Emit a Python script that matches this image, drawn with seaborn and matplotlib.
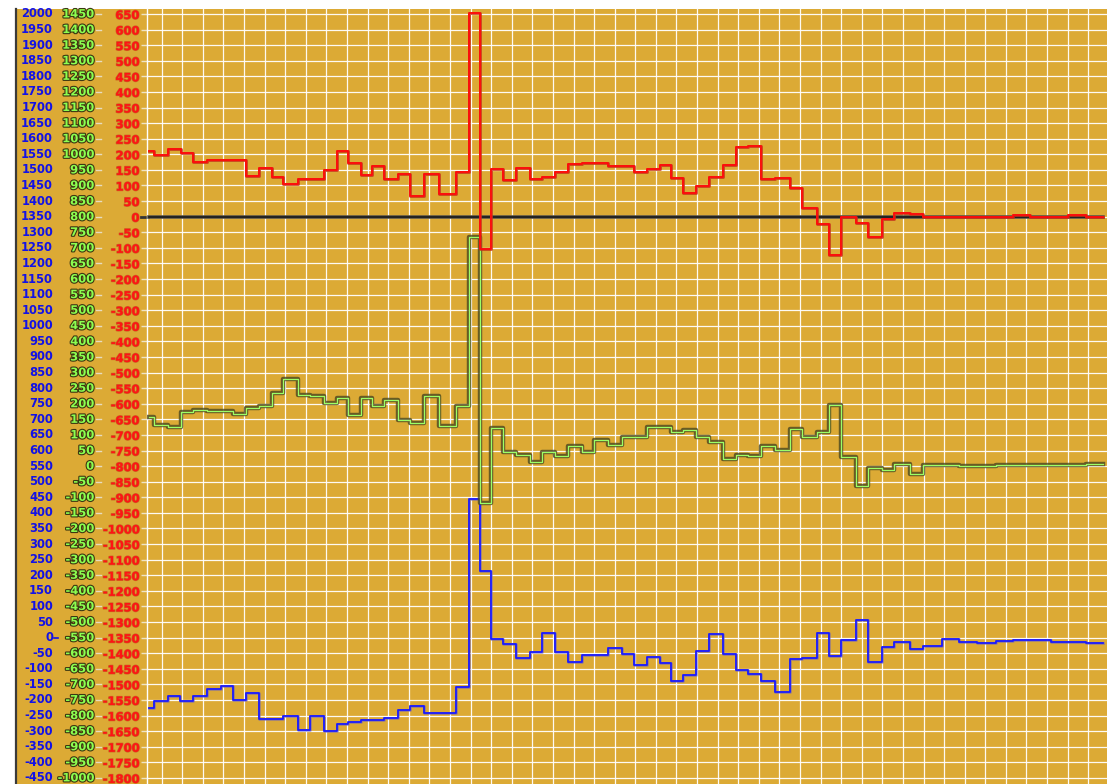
import matplotlib
matplotlib.use("Agg")
import matplotlib.pyplot as plt
import matplotlib.patheffects as pe
from matplotlib.lines import Line2D
from matplotlib.patches import Rectangle
from matplotlib.transforms import blended_transform_factory
import pandas as pd
import seaborn as sns

# Step traces: time (s) at which each trace changes level, and the level held from then on.
red_t = [-6.0, -3.7, 2.9, 9.2, 15.3, 21.9, 40.9, 47.4, 53.4, 59.1, 66.1, 79.0, 85.0, 90.6,
         96.6, 102.3, 108.1, 114.9, 120.7, 127.4, 134.7, 142.8, 149.2, 154.6, 160.1, 165.9,
         171.9, 178.9, 184.7, 191.2, 197.5, 204.0, 216.6, 229.4, 235.5, 242.0, 247.2, 253.3,
         259.5, 266.0, 272.8, 278.8, 284.9, 291.1, 298.0, 305.1, 311.1, 318.1, 323.9, 329.9,
         337.2, 343.2, 349.7, 355.8, 363.2, 369.9, 413.6, 421.7, 440.2, 448.8]
red_v = [210, 198, 218, 205, 175, 182, 131, 155, 128, 106, 122, 149, 212, 171,
         133, 162, 122, 136, 66, 136, 73, 142, 654, -104, 154, 118,
         157, 122, 128, 143, 169, 172, 162, 144, 152, 166, 125, 76,
         98, 126, 165, 222, 226, 120, 125, 92, 29, -24, -124, 0,
         -21, -66, -8, 12, 9, 0, 5, 0, 5, 0]

green_t = [-6.0, -3.7, 2.9, 9.2, 15.3, 21.9, 34.8, 40.9, 47.4, 53.4, 59.1, 66.1, 71.8, 79.0,
           85.0, 90.6, 96.6, 102.3, 108.1, 114.9, 120.7, 127.4, 134.7, 142.8, 149.2, 154.6,
           160.1, 165.9, 171.9, 178.9, 184.7, 191.2, 197.5, 204.0, 210.1, 216.6, 223.4, 229.4,
           235.5, 247.2, 253.3, 259.5, 266.0, 272.8, 278.8, 284.9, 291.1, 298.0, 305.1, 311.1,
           318.1, 323.9, 329.9, 337.2, 343.2, 349.7, 355.8, 363.2, 369.9, 387.2, 405.1, 448.8]
green_v = [158, 132, 126, 173, 180, 178, 166, 185, 193, 235, 278, 227, 224, 203,
           218, 164, 217, 193, 212, 148, 137, 226, 129, 193, 736, -119,
           121, 45, 36, 14, 46, 32, 65, 45, 84, 67, 94, 92,
           126, 109, 116, 94, 77, 23, 37, 32, 65, 52, 118, 94,
           109, 196, 30, -64, -7, -13, 6, -25, 3, 0, 4, 7]

blue_t = [-6.0, -3.7, 2.9, 9.0, 15.3, 21.9, 28.7, 34.8, 40.9, 47.4, 59.1, 66.1, 71.8, 79.0,
          85.0, 90.6, 96.6, 102.3, 108.1, 114.9, 120.7, 127.4, 142.8, 149.2, 154.6, 160.1,
          165.9, 171.9, 178.9, 184.7, 191.2, 197.5, 204.0, 216.6, 223.4, 229.4, 235.5, 242.0,
          247.2, 253.3, 259.5, 266.0, 272.8, 278.8, 284.9, 291.1, 298.0, 305.1, 311.1, 318.1,
          323.9, 329.9, 337.2, 343.2, 349.7, 355.8, 363.2, 369.9, 379.1, 387.2, 395.8, 405.1,
          413.6, 431.8, 448.8]
blue_v = [-227, -203, -187, -203, -187, -164, -154, -200, -177, -262, -251, -297, -251, -300,
          -278, -270, -263, -265, -257, -233, -218, -243, -157, 444, 214, -3,
          -21, -66, -47, 14, -47, -79, -57, -34, -54, -87, -61, -82,
          -139, -121, -44, 11, -54, -104, -118, -140, -173, -68, -64, 14,
          -60, -8, 55, -77, -30, -14, -37, -26, -4, -14, -17, -11,
          -8, -14, -17]

t_end = 457.2

# The three scales share one grid; green and red read lower than blue by fixed offsets.
blue_ticks = list(range(2000, -451, -50))
green_offset = 550
red_offset = 1350

W, H = 1107, 784
BG = "#dcaa35"
LEFT_PX, TOP_PX = 147, 9

fig = plt.figure(figsize=(W / 100, H / 100), dpi=100)
fig.patch.set_facecolor("white")

# label panel behind the three scales
fig.add_artist(Rectangle((16 / W, 0), (LEFT_PX - 16) / W, (H - TOP_PX) / H,
                         transform=fig.transFigure, facecolor=BG, edgecolor="none", zorder=0))
fig.add_artist(Line2D([16 / W, 16 / W], [0, (H - TOP_PX) / H], transform=fig.transFigure,
                      color="#3a3a3a", lw=1.6, zorder=1))

ax = fig.add_axes([LEFT_PX / W, 0, (W - LEFT_PX) / W, (H - TOP_PX) / H])
ax.set_facecolor(BG)

x_left = (LEFT_PX - 161.7) / 2.059
x_right = (W - 161.7) / 2.059
ax.set_xlim(x_left, x_right)
ax.set_ylim(-469.5, 2016)

ax.set_xticks(list(range(0, 460, 10)))
ax.set_yticks(blue_ticks)
ax.grid(True, color="white", lw=0.9, alpha=0.95)
ax.set_axisbelow(True)
for s in ("top", "right", "bottom"):
    ax.spines[s].set_visible(False)
ax.spines["left"].set_color("white")
ax.spines["left"].set_linewidth(1.0)
ax.tick_params(axis="x", length=0, labelbottom=False)

# red scale as the axis' own tick labels
ax.set_yticklabels([str(v - red_offset) for v in blue_ticks])
ax.tick_params(axis="y", length=4, width=1.0, color="#efe3c4", pad=1.5,
               labelsize=8.3, labelcolor="#ff1414")
for lab in ax.get_yticklabels():
    lab.set_fontweight("bold")
    lab.set_path_effects([pe.Stroke(linewidth=1.0, foreground="#c0441a", alpha=0.6), pe.Normal()])

trans = blended_transform_factory(fig.transFigure, ax.transData)
for v in blue_ticks:
    ax.text(53 / W, v, str(v), transform=trans, ha="right", va="center",
            fontsize=8.3, fontweight="bold", color="#1212e6", clip_on=False)
    ax.text(94 / W, v, str(v - green_offset), transform=trans, ha="right", va="center",
            fontsize=8.3, fontweight="bold", color="#8cff50", clip_on=False,
            path_effects=[pe.Stroke(linewidth=1.6, foreground="#3c3812"), pe.Normal()])
    ax.plot([96 / W, 101 / W], [v, v], transform=trans, color="#e6dcc0", lw=1.0,
            clip_on=False)
# marks for the zero of each scale
ax.plot([54 / W, 58 / W], [0, 0], transform=trans, color="#1212e6", lw=1.2, clip_on=False)
ax.plot([141 / W, 148 / W], [red_offset, red_offset], transform=trans, color="#333333",
        lw=2.0, clip_on=False)


def step_frame(ts, vs, offset):
    return pd.DataFrame({"t": list(ts) + [t_end],
                         "v": [v + offset for v in vs] + [vs[-1] + offset]})


# zero line of the red trace
zero = pd.DataFrame({"t": [red_t[0], t_end], "v": [red_offset, red_offset]})
sns.lineplot(data=zero, x="t", y="v", ax=ax, color="#1e1e1e", lw=1.3, estimator=None,
             sort=False, legend=False, zorder=3,
             path_effects=[pe.Stroke(linewidth=2.6, foreground="#5a5548"), pe.Normal()])

sns.lineplot(data=step_frame(blue_t, blue_v, 0), x="t", y="v", ax=ax, color="#1a1aff",
             lw=1.3, drawstyle="steps-post", estimator=None, sort=False, legend=False,
             zorder=4,
             path_effects=[pe.Stroke(linewidth=1.9, foreground="#6a60c0", alpha=0.6), pe.Normal()])

sns.lineplot(data=step_frame(green_t, green_v, green_offset), x="t", y="v", ax=ax,
             color="#9cff66", lw=0.9, drawstyle="steps-post", estimator=None, sort=False,
             legend=False, zorder=5,
             path_effects=[pe.Stroke(linewidth=3.2, foreground="#4a4820", alpha=0.8), pe.Normal()])

sns.lineplot(data=step_frame(red_t, red_v, red_offset), x="t", y="v", ax=ax,
             color="#ff0a0a", lw=1.3, drawstyle="steps-post", estimator=None, sort=False,
             legend=False, zorder=6,
             path_effects=[pe.Stroke(linewidth=2.1, foreground="#c8301a", alpha=0.8), pe.Normal()])

ax.set_xlabel("")
ax.set_ylabel("")

fig.savefig("out.png", dpi=100, facecolor=fig.get_facecolor())
